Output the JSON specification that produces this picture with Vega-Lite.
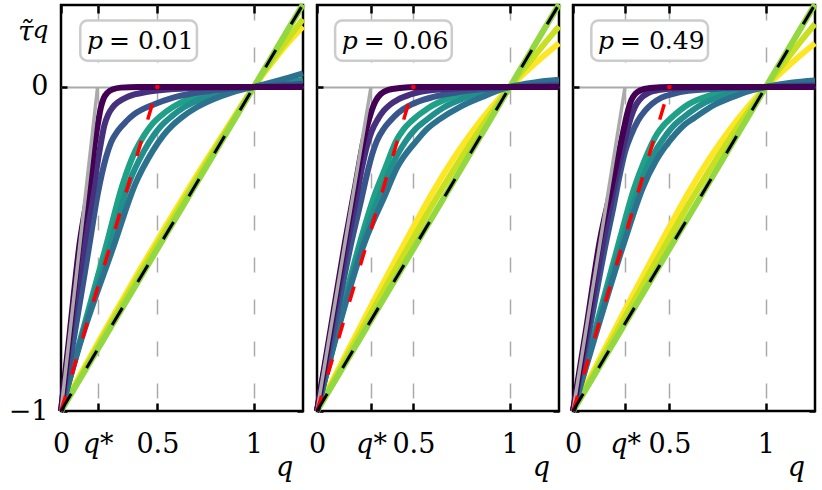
{
  "$schema": "https://vega.github.io/schema/vega-lite/v6.json",
  "background": "white",
  "padding": {"left": 6, "top": -9, "right": 5, "bottom": 4},
  "spacing": 14,
  "bounds": "flush",
  "datasets": {
    "panels": [
      {"p": 1, "lab": "= 0.01"},
      {"p": 2, "lab": "= 0.06"},
      {"p": 3, "lab": "= 0.49"}
    ],
    "guides": [
      {"p": 1, "k": "gray", "q": 0, "t": -1}, {"p": 1, "k": "gray", "q": 0.19, "t": 0},
      {"p": 1, "k": "red", "q": 0, "t": -1}, {"p": 1, "k": "red", "q": 0.5, "t": 0},
      {"p": 1, "k": "black", "q": 0, "t": -1}, {"p": 1, "k": "black", "q": 1.255, "t": 0.255},
      {"p": 2, "k": "gray", "q": 0, "t": -1}, {"p": 2, "k": "gray", "q": 0.28, "t": 0},
      {"p": 2, "k": "red", "q": 0, "t": -1}, {"p": 2, "k": "red", "q": 0.5, "t": 0},
      {"p": 2, "k": "black", "q": 0, "t": -1}, {"p": 2, "k": "black", "q": 1.255, "t": 0.255},
      {"p": 3, "k": "gray", "q": 0, "t": -1}, {"p": 3, "k": "gray", "q": 0.27, "t": 0},
      {"p": 3, "k": "red", "q": 0, "t": -1}, {"p": 3, "k": "red", "q": 0.5, "t": 0},
      {"p": 3, "k": "black", "q": 0, "t": -1}, {"p": 3, "k": "black", "q": 1.255, "t": 0.255}
    ],
    "curves": [
      {"p":1,"k":"c1","q":0,"t":-1},{"p":1,"k":"c1","q":0.1,"t":-0.888},{"p":1,"k":"c1","q":0.25,"t":-0.728},{"p":1,"k":"c1","q":0.4,"t":-0.573},{"p":1,"k":"c1","q":0.55,"t":-0.423},{"p":1,"k":"c1","q":0.7,"t":-0.277},{"p":1,"k":"c1","q":0.85,"t":-0.137},{"p":1,"k":"c1","q":1,"t":0},{"p":1,"k":"c1","q":1.1,"t":0.08},{"p":1,"k":"c1","q":1.18,"t":0.138},{"p":1,"k":"c1","q":1.255,"t":0.187},
      {"p":1,"k":"c2","q":0,"t":-1},{"p":1,"k":"c2","q":0.1,"t":-0.894},{"p":1,"k":"c2","q":0.25,"t":-0.738},{"p":1,"k":"c2","q":0.4,"t":-0.585},{"p":1,"k":"c2","q":0.55,"t":-0.435},{"p":1,"k":"c2","q":0.7,"t":-0.287},{"p":1,"k":"c2","q":0.85,"t":-0.142},{"p":1,"k":"c2","q":1,"t":0},{"p":1,"k":"c2","q":1.1,"t":0.086},{"p":1,"k":"c2","q":1.18,"t":0.15},{"p":1,"k":"c2","q":1.255,"t":0.21},
      {"p":1,"k":"c3","q":0,"t":-1},{"p":1,"k":"c3","q":0.5,"t":-0.5},{"p":1,"k":"c3","q":1,"t":0},{"p":1,"k":"c3","q":1.255,"t":0.255},
      {"p":1,"k":"c4","q":0,"t":-1},{"p":1,"k":"c4","q":0.1,"t":-0.78},{"p":1,"k":"c4","q":0.235,"t":-0.488},{"p":1,"k":"c4","q":0.32,"t":-0.3},{"p":1,"k":"c4","q":0.385,"t":-0.198},{"p":1,"k":"c4","q":0.43,"t":-0.15},{"p":1,"k":"c4","q":0.47,"t":-0.117},{"p":1,"k":"c4","q":0.52,"t":-0.088},{"p":1,"k":"c4","q":0.58,"t":-0.062},{"p":1,"k":"c4","q":0.67,"t":-0.035},{"p":1,"k":"c4","q":0.78,"t":-0.016},{"p":1,"k":"c4","q":0.9,"t":-0.005},{"p":1,"k":"c4","q":1,"t":0},{"p":1,"k":"c4","q":1.13,"t":0.003},{"p":1,"k":"c4","q":1.255,"t":0.006},
      {"p":1,"k":"c5","q":0,"t":-1},{"p":1,"k":"c5","q":0.1,"t":-0.785},{"p":1,"k":"c5","q":0.255,"t":-0.488},{"p":1,"k":"c5","q":0.35,"t":-0.3},{"p":1,"k":"c5","q":0.43,"t":-0.198},{"p":1,"k":"c5","q":0.48,"t":-0.15},{"p":1,"k":"c5","q":0.52,"t":-0.12},{"p":1,"k":"c5","q":0.575,"t":-0.09},{"p":1,"k":"c5","q":0.64,"t":-0.062},{"p":1,"k":"c5","q":0.73,"t":-0.036},{"p":1,"k":"c5","q":0.83,"t":-0.017},{"p":1,"k":"c5","q":0.92,"t":-0.006},{"p":1,"k":"c5","q":1,"t":0},{"p":1,"k":"c5","q":1.13,"t":0.01},{"p":1,"k":"c5","q":1.255,"t":0.022},
      {"p":1,"k":"c6","q":0,"t":-1},{"p":1,"k":"c6","q":0.1,"t":-0.79},{"p":1,"k":"c6","q":0.275,"t":-0.488},{"p":1,"k":"c6","q":0.385,"t":-0.3},{"p":1,"k":"c6","q":0.475,"t":-0.198},{"p":1,"k":"c6","q":0.53,"t":-0.15},{"p":1,"k":"c6","q":0.575,"t":-0.12},{"p":1,"k":"c6","q":0.63,"t":-0.092},{"p":1,"k":"c6","q":0.7,"t":-0.064},{"p":1,"k":"c6","q":0.79,"t":-0.038},{"p":1,"k":"c6","q":0.88,"t":-0.018},{"p":1,"k":"c6","q":0.94,"t":-0.008},{"p":1,"k":"c6","q":1,"t":0},{"p":1,"k":"c6","q":1.13,"t":0.02},{"p":1,"k":"c6","q":1.255,"t":0.042},
      {"p":1,"k":"c7","q":0,"t":-1},{"p":1,"k":"c7","q":0.06,"t":-0.8},{"p":1,"k":"c7","q":0.147,"t":-0.488},{"p":1,"k":"c7","q":0.19,"t":-0.332},{"p":1,"k":"c7","q":0.233,"t":-0.218},{"p":1,"k":"c7","q":0.26,"t":-0.17},{"p":1,"k":"c7","q":0.294,"t":-0.136},{"p":1,"k":"c7","q":0.34,"t":-0.105},{"p":1,"k":"c7","q":0.38,"t":-0.084},{"p":1,"k":"c7","q":0.484,"t":-0.053},{"p":1,"k":"c7","q":0.57,"t":-0.035},{"p":1,"k":"c7","q":0.7,"t":-0.018},{"p":1,"k":"c7","q":0.85,"t":-0.007},{"p":1,"k":"c7","q":1,"t":0},{"p":1,"k":"c7","q":1.255,"t":0.01},
      {"p":1,"k":"c8","q":0,"t":-1},{"p":1,"k":"c8","q":0.05,"t":-0.76},{"p":1,"k":"c8","q":0.121,"t":-0.488},{"p":1,"k":"c8","q":0.164,"t":-0.332},{"p":1,"k":"c8","q":0.199,"t":-0.2},{"p":1,"k":"c8","q":0.225,"t":-0.118},{"p":1,"k":"c8","q":0.245,"t":-0.085},{"p":1,"k":"c8","q":0.268,"t":-0.063},{"p":1,"k":"c8","q":0.3,"t":-0.045},{"p":1,"k":"c8","q":0.346,"t":-0.03},{"p":1,"k":"c8","q":0.45,"t":-0.015},{"p":1,"k":"c8","q":0.553,"t":-0.008},{"p":1,"k":"c8","q":0.7,"t":-0.003},{"p":1,"k":"c8","q":1,"t":0},{"p":1,"k":"c8","q":1.255,"t":0.002},
      {"p":1,"k":"c9","q":0,"t":-1},{"p":1,"k":"c9","q":0.045,"t":-0.76},{"p":1,"k":"c9","q":0.095,"t":-0.49},{"p":1,"k":"c9","q":0.147,"t":-0.3},{"p":1,"k":"c9","q":0.181,"t":-0.15},{"p":1,"k":"c9","q":0.195,"t":-0.1},{"p":1,"k":"c9","q":0.207,"t":-0.062},{"p":1,"k":"c9","q":0.222,"t":-0.034},{"p":1,"k":"c9","q":0.242,"t":-0.017},{"p":1,"k":"c9","q":0.27,"t":-0.007},{"p":1,"k":"c9","q":0.31,"t":-0.002},{"p":1,"k":"c9","q":0.4,"t":0},{"p":1,"k":"c9","q":1,"t":0},{"p":1,"k":"c9","q":1.255,"t":0},

      {"p":2,"k":"c1","q":0,"t":-1},{"p":2,"k":"c1","q":0.1,"t":-0.884},{"p":2,"k":"c1","q":0.2,"t":-0.768},{"p":2,"k":"c1","q":0.3,"t":-0.654},{"p":2,"k":"c1","q":0.4,"t":-0.542},{"p":2,"k":"c1","q":0.5,"t":-0.432},{"p":2,"k":"c1","q":0.6,"t":-0.325},{"p":2,"k":"c1","q":0.7,"t":-0.228},{"p":2,"k":"c1","q":0.8,"t":-0.142},{"p":2,"k":"c1","q":0.9,"t":-0.066},{"p":2,"k":"c1","q":1,"t":0},{"p":2,"k":"c1","q":1.1,"t":0.056},{"p":2,"k":"c1","q":1.18,"t":0.098},{"p":2,"k":"c1","q":1.255,"t":0.135},
      {"p":2,"k":"c2","q":0,"t":-1},{"p":2,"k":"c2","q":0.1,"t":-0.892},{"p":2,"k":"c2","q":0.2,"t":-0.784},{"p":2,"k":"c2","q":0.3,"t":-0.677},{"p":2,"k":"c2","q":0.4,"t":-0.571},{"p":2,"k":"c2","q":0.5,"t":-0.466},{"p":2,"k":"c2","q":0.6,"t":-0.362},{"p":2,"k":"c2","q":0.7,"t":-0.264},{"p":2,"k":"c2","q":0.8,"t":-0.171},{"p":2,"k":"c2","q":0.9,"t":-0.083},{"p":2,"k":"c2","q":1,"t":0},{"p":2,"k":"c2","q":1.1,"t":0.075},{"p":2,"k":"c2","q":1.18,"t":0.134},{"p":2,"k":"c2","q":1.255,"t":0.187},
      {"p":2,"k":"c3","q":0,"t":-1},{"p":2,"k":"c3","q":0.5,"t":-0.5},{"p":2,"k":"c3","q":1,"t":0},{"p":2,"k":"c3","q":1.255,"t":0.255},
      {"p":2,"k":"c4","q":0,"t":-1},{"p":2,"k":"c4","q":0.1,"t":-0.76},{"p":2,"k":"c4","q":0.225,"t":-0.475},{"p":2,"k":"c4","q":0.3,"t":-0.331},{"p":2,"k":"c4","q":0.355,"t":-0.249},{"p":2,"k":"c4","q":0.41,"t":-0.167},{"p":2,"k":"c4","q":0.45,"t":-0.13},{"p":2,"k":"c4","q":0.49,"t":-0.105},{"p":2,"k":"c4","q":0.58,"t":-0.064},{"p":2,"k":"c4","q":0.69,"t":-0.033},{"p":2,"k":"c4","q":0.82,"t":-0.012},{"p":2,"k":"c4","q":0.92,"t":-0.004},{"p":2,"k":"c4","q":1,"t":0},{"p":2,"k":"c4","q":1.13,"t":0.003},{"p":2,"k":"c4","q":1.255,"t":0.006},
      {"p":2,"k":"c5","q":0,"t":-1},{"p":2,"k":"c5","q":0.1,"t":-0.765},{"p":2,"k":"c5","q":0.237,"t":-0.475},{"p":2,"k":"c5","q":0.327,"t":-0.331},{"p":2,"k":"c5","q":0.383,"t":-0.249},{"p":2,"k":"c5","q":0.46,"t":-0.167},{"p":2,"k":"c5","q":0.51,"t":-0.13},{"p":2,"k":"c5","q":0.56,"t":-0.105},{"p":2,"k":"c5","q":0.655,"t":-0.064},{"p":2,"k":"c5","q":0.77,"t":-0.033},{"p":2,"k":"c5","q":0.88,"t":-0.013},{"p":2,"k":"c5","q":0.95,"t":-0.005},{"p":2,"k":"c5","q":1,"t":0},{"p":2,"k":"c5","q":1.13,"t":0.008},{"p":2,"k":"c5","q":1.255,"t":0.014},
      {"p":2,"k":"c6","q":0,"t":-1},{"p":2,"k":"c6","q":0.1,"t":-0.77},{"p":2,"k":"c6","q":0.25,"t":-0.475},{"p":2,"k":"c6","q":0.355,"t":-0.331},{"p":2,"k":"c6","q":0.415,"t":-0.249},{"p":2,"k":"c6","q":0.515,"t":-0.167},{"p":2,"k":"c6","q":0.57,"t":-0.13},{"p":2,"k":"c6","q":0.635,"t":-0.1},{"p":2,"k":"c6","q":0.74,"t":-0.062},{"p":2,"k":"c6","q":0.86,"t":-0.03},{"p":2,"k":"c6","q":0.93,"t":-0.013},{"p":2,"k":"c6","q":1,"t":0},{"p":2,"k":"c6","q":1.13,"t":0.014},{"p":2,"k":"c6","q":1.255,"t":0.022},
      {"p":2,"k":"c7","q":0,"t":-1},{"p":2,"k":"c7","q":0.09,"t":-0.74},{"p":2,"k":"c7","q":0.18,"t":-0.475},{"p":2,"k":"c7","q":0.225,"t":-0.36},{"p":2,"k":"c7","q":0.259,"t":-0.27},{"p":2,"k":"c7","q":0.285,"t":-0.21},{"p":2,"k":"c7","q":0.31,"t":-0.167},{"p":2,"k":"c7","q":0.345,"t":-0.13},{"p":2,"k":"c7","q":0.379,"t":-0.105},{"p":2,"k":"c7","q":0.42,"t":-0.08},{"p":2,"k":"c7","q":0.474,"t":-0.059},{"p":2,"k":"c7","q":0.55,"t":-0.04},{"p":2,"k":"c7","q":0.629,"t":-0.027},{"p":2,"k":"c7","q":0.73,"t":-0.016},{"p":2,"k":"c7","q":0.836,"t":-0.008},{"p":2,"k":"c7","q":1,"t":0},{"p":2,"k":"c7","q":1.255,"t":0.008},
      {"p":2,"k":"c8","q":0,"t":-1},{"p":2,"k":"c8","q":0.08,"t":-0.73},{"p":2,"k":"c8","q":0.16,"t":-0.475},{"p":2,"k":"c8","q":0.2,"t":-0.355},{"p":2,"k":"c8","q":0.233,"t":-0.25},{"p":2,"k":"c8","q":0.26,"t":-0.18},{"p":2,"k":"c8","q":0.284,"t":-0.136},{"p":2,"k":"c8","q":0.315,"t":-0.1},{"p":2,"k":"c8","q":0.345,"t":-0.074},{"p":2,"k":"c8","q":0.38,"t":-0.054},{"p":2,"k":"c8","q":0.422,"t":-0.038},{"p":2,"k":"c8","q":0.48,"t":-0.024},{"p":2,"k":"c8","q":0.543,"t":-0.014},{"p":2,"k":"c8","q":0.65,"t":-0.007},{"p":2,"k":"c8","q":0.75,"t":-0.004},{"p":2,"k":"c8","q":1,"t":0},{"p":2,"k":"c8","q":1.255,"t":0.002},
      {"p":2,"k":"c9","q":0,"t":-1},{"p":2,"k":"c9","q":0.07,"t":-0.75},{"p":2,"k":"c9","q":0.145,"t":-0.48},{"p":2,"k":"c9","q":0.2,"t":-0.3},{"p":2,"k":"c9","q":0.245,"t":-0.155},{"p":2,"k":"c9","q":0.265,"t":-0.11},{"p":2,"k":"c9","q":0.285,"t":-0.07},{"p":2,"k":"c9","q":0.305,"t":-0.042},{"p":2,"k":"c9","q":0.33,"t":-0.022},{"p":2,"k":"c9","q":0.37,"t":-0.009},{"p":2,"k":"c9","q":0.43,"t":-0.003},{"p":2,"k":"c9","q":0.52,"t":0},{"p":2,"k":"c9","q":1,"t":0},{"p":2,"k":"c9","q":1.255,"t":0},

      {"p":3,"k":"c1","q":0,"t":-1},{"p":3,"k":"c1","q":0.1,"t":-0.884},{"p":3,"k":"c1","q":0.2,"t":-0.768},{"p":3,"k":"c1","q":0.3,"t":-0.654},{"p":3,"k":"c1","q":0.4,"t":-0.542},{"p":3,"k":"c1","q":0.5,"t":-0.432},{"p":3,"k":"c1","q":0.6,"t":-0.325},{"p":3,"k":"c1","q":0.7,"t":-0.228},{"p":3,"k":"c1","q":0.8,"t":-0.142},{"p":3,"k":"c1","q":0.9,"t":-0.066},{"p":3,"k":"c1","q":1,"t":0},{"p":3,"k":"c1","q":1.1,"t":0.056},{"p":3,"k":"c1","q":1.18,"t":0.098},{"p":3,"k":"c1","q":1.255,"t":0.135},
      {"p":3,"k":"c2","q":0,"t":-1},{"p":3,"k":"c2","q":0.1,"t":-0.892},{"p":3,"k":"c2","q":0.2,"t":-0.784},{"p":3,"k":"c2","q":0.3,"t":-0.677},{"p":3,"k":"c2","q":0.4,"t":-0.571},{"p":3,"k":"c2","q":0.5,"t":-0.466},{"p":3,"k":"c2","q":0.6,"t":-0.362},{"p":3,"k":"c2","q":0.7,"t":-0.264},{"p":3,"k":"c2","q":0.8,"t":-0.171},{"p":3,"k":"c2","q":0.9,"t":-0.083},{"p":3,"k":"c2","q":1,"t":0},{"p":3,"k":"c2","q":1.1,"t":0.078},{"p":3,"k":"c2","q":1.18,"t":0.14},{"p":3,"k":"c2","q":1.255,"t":0.195},
      {"p":3,"k":"c3","q":0,"t":-1},{"p":3,"k":"c3","q":0.5,"t":-0.5},{"p":3,"k":"c3","q":1,"t":0},{"p":3,"k":"c3","q":1.255,"t":0.255},
      {"p":3,"k":"c4","q":0,"t":-1},{"p":3,"k":"c4","q":0.11,"t":-0.76},{"p":3,"k":"c4","q":0.24,"t":-0.475},{"p":3,"k":"c4","q":0.318,"t":-0.311},{"p":3,"k":"c4","q":0.37,"t":-0.228},{"p":3,"k":"c4","q":0.435,"t":-0.146},{"p":3,"k":"c4","q":0.47,"t":-0.118},{"p":3,"k":"c4","q":0.51,"t":-0.095},{"p":3,"k":"c4","q":0.6,"t":-0.053},{"p":3,"k":"c4","q":0.71,"t":-0.026},{"p":3,"k":"c4","q":0.83,"t":-0.01},{"p":3,"k":"c4","q":0.92,"t":-0.003},{"p":3,"k":"c4","q":1,"t":0},{"p":3,"k":"c4","q":1.13,"t":0.003},{"p":3,"k":"c4","q":1.255,"t":0.006},
      {"p":3,"k":"c5","q":0,"t":-1},{"p":3,"k":"c5","q":0.115,"t":-0.76},{"p":3,"k":"c5","q":0.255,"t":-0.475},{"p":3,"k":"c5","q":0.342,"t":-0.311},{"p":3,"k":"c5","q":0.4,"t":-0.228},{"p":3,"k":"c5","q":0.485,"t":-0.146},{"p":3,"k":"c5","q":0.525,"t":-0.118},{"p":3,"k":"c5","q":0.57,"t":-0.095},{"p":3,"k":"c5","q":0.67,"t":-0.053},{"p":3,"k":"c5","q":0.78,"t":-0.026},{"p":3,"k":"c5","q":0.88,"t":-0.01},{"p":3,"k":"c5","q":0.95,"t":-0.004},{"p":3,"k":"c5","q":1,"t":0},{"p":3,"k":"c5","q":1.13,"t":0.009},{"p":3,"k":"c5","q":1.255,"t":0.015},
      {"p":3,"k":"c6","q":0,"t":-1},{"p":3,"k":"c6","q":0.12,"t":-0.76},{"p":3,"k":"c6","q":0.268,"t":-0.475},{"p":3,"k":"c6","q":0.362,"t":-0.311},{"p":3,"k":"c6","q":0.43,"t":-0.228},{"p":3,"k":"c6","q":0.53,"t":-0.146},{"p":3,"k":"c6","q":0.575,"t":-0.118},{"p":3,"k":"c6","q":0.63,"t":-0.095},{"p":3,"k":"c6","q":0.74,"t":-0.053},{"p":3,"k":"c6","q":0.85,"t":-0.026},{"p":3,"k":"c6","q":0.93,"t":-0.01},{"p":3,"k":"c6","q":1,"t":0},{"p":3,"k":"c6","q":1.13,"t":0.013},{"p":3,"k":"c6","q":1.255,"t":0.02},
      {"p":3,"k":"c7","q":0,"t":-1},{"p":3,"k":"c7","q":0.085,"t":-0.75},{"p":3,"k":"c7","q":0.173,"t":-0.475},{"p":3,"k":"c7","q":0.21,"t":-0.37},{"p":3,"k":"c7","q":0.243,"t":-0.27},{"p":3,"k":"c7","q":0.27,"t":-0.2},{"p":3,"k":"c7","q":0.303,"t":-0.146},{"p":3,"k":"c7","q":0.335,"t":-0.106},{"p":3,"k":"c7","q":0.373,"t":-0.074},{"p":3,"k":"c7","q":0.41,"t":-0.052},{"p":3,"k":"c7","q":0.459,"t":-0.033},{"p":3,"k":"c7","q":0.52,"t":-0.021},{"p":3,"k":"c7","q":0.598,"t":-0.012},{"p":3,"k":"c7","q":0.789,"t":-0.004},{"p":3,"k":"c7","q":1,"t":0},{"p":3,"k":"c7","q":1.255,"t":0.006},
      {"p":3,"k":"c8","q":0,"t":-1},{"p":3,"k":"c8","q":0.075,"t":-0.75},{"p":3,"k":"c8","q":0.15,"t":-0.5},{"p":3,"k":"c8","q":0.21,"t":-0.32},{"p":3,"k":"c8","q":0.255,"t":-0.2},{"p":3,"k":"c8","q":0.275,"t":-0.15},{"p":3,"k":"c8","q":0.29,"t":-0.115},{"p":3,"k":"c8","q":0.31,"t":-0.078},{"p":3,"k":"c8","q":0.33,"t":-0.052},{"p":3,"k":"c8","q":0.36,"t":-0.03},{"p":3,"k":"c8","q":0.39,"t":-0.019},{"p":3,"k":"c8","q":0.45,"t":-0.009},{"p":3,"k":"c8","q":0.55,"t":-0.004},{"p":3,"k":"c8","q":0.7,"t":-0.001},{"p":3,"k":"c8","q":1,"t":0},{"p":3,"k":"c8","q":1.255,"t":0.002},
      {"p":3,"k":"c9","q":0,"t":-1},{"p":3,"k":"c9","q":0.07,"t":-0.74},{"p":3,"k":"c9","q":0.139,"t":-0.475},{"p":3,"k":"c9","q":0.199,"t":-0.311},{"p":3,"k":"c9","q":0.243,"t":-0.187},{"p":3,"k":"c9","q":0.265,"t":-0.125},{"p":3,"k":"c9","q":0.28,"t":-0.085},{"p":3,"k":"c9","q":0.303,"t":-0.04},{"p":3,"k":"c9","q":0.325,"t":-0.02},{"p":3,"k":"c9","q":0.347,"t":-0.011},{"p":3,"k":"c9","q":0.4,"t":-0.003},{"p":3,"k":"c9","q":0.5,"t":0},{"p":3,"k":"c9","q":1,"t":0},{"p":3,"k":"c9","q":1.255,"t":0}
    ]
  },
  "hconcat": [
    {
      "width": 242,
      "height": 406,
      "layer": [
        {
          "data": {"name": "curves"},
          "transform": [{"filter": "datum.p == 1"}],
          "mark": {"type": "line", "strokeWidth": 6, "interpolate": "monotone"},
          "encoding": {
            "x": {
              "field": "q", "type": "quantitative",
              "scale": {"domain": [0, 1.255], "nice": false, "zero": false},
              "axis": {
                "orient": "bottom", "values": [0, 0.19, 0.5, 1], "title": null,
                "labelExpr": "datum.value == 0 ? '0' : datum.value == 0.5 ? '0.5' : datum.value == 1 ? '1' : 'q*'",
                "labelFontStyle": {"condition": {"test": "datum.value > 0.05 && datum.value < 0.45", "value": "italic"}, "value": "normal"},
                "labelFont": "DejaVu Serif", "labelFontSize": 27, "labelColor": "black",
                "labelBaseline": "alphabetic", "labelPadding": 49, "labelOverlap": false, "labelFlush": false,
                "domain": false, "tickSize": -8, "tickWidth": 2.5, "tickColor": "black",
                "grid": true, "gridColor": "#aaaaaa", "gridDash": [15, 27], "gridWidth": 1.5,
                "gridOpacity": {"condition": {"test": "datum.value == 0", "value": 0}, "value": 1}
              }
            },
            "y": {
              "field": "t", "type": "quantitative",
              "scale": {"domain": [-1, 0.253], "nice": false, "zero": false},
              "axis": {
                "orient": "left", "values": [-1, 0], "title": null,
                "labelExpr": "datum.value == 0 ? '0' : '−1'",
                "labelFont": "DejaVu Serif", "labelFontSize": 27, "labelColor": "black",
                "labelBaseline": "middle", "labelPadding": 19, "labelFlush": false,
                "domain": false, "tickSize": -6, "tickWidth": 2.5, "tickColor": "black",
                "grid": true, "gridColor": "#aaaaaa", "gridWidth": 2,
                "gridOpacity": {"condition": {"test": "datum.value < -0.5", "value": 0}, "value": 1}
              }
            },
            "color": {
              "field": "k", "type": "nominal",
              "scale": {"domain": ["c1", "c2", "c3", "c4", "c5", "c6", "c7", "c8", "c9"], "range": ["#fde725", "#c8e020", "#93d741", "#1fa187", "#21908d", "#2c728e", "#39568c", "#46307e", "#440154"]},
              "legend": null
            },
            "order": {"field": "q", "type": "quantitative"}
          }
        },
        {
          "data": {"name": "guides"},
          "transform": [{"filter": "datum.p == 1 && datum.k == 'gray'"}],
          "mark": {"type": "line", "color": "#aaaaaa", "strokeWidth": 3.5},
          "encoding": {
            "x": {"field": "q", "type": "quantitative", "scale": {"domain": [0, 1.255], "nice": false, "zero": false}, "axis": null},
            "y": {"field": "t", "type": "quantitative", "scale": {"domain": [-1, 0.253], "nice": false, "zero": false}, "axis": null}
          }
        },
        {
          "data": {"name": "guides"},
          "transform": [{"filter": "datum.p == 1 && datum.k == 'red'"}],
          "mark": {"type": "line", "color": "#ff0000", "strokeWidth": 3.5, "strokeDash": [16, 22]},
          "encoding": {
            "x": {"field": "q", "type": "quantitative", "scale": {"domain": [0, 1.255], "nice": false, "zero": false}, "axis": null},
            "y": {"field": "t", "type": "quantitative", "scale": {"domain": [-1, 0.253], "nice": false, "zero": false}, "axis": null}
          }
        },
        {
          "data": {"name": "guides"},
          "transform": [{"filter": "datum.p == 1 && datum.k == 'red' && datum.t == 0"}],
          "mark": {"type": "point", "filled": true, "color": "#ff0000", "size": 22, "opacity": 1},
          "encoding": {
            "x": {"field": "q", "type": "quantitative", "scale": {"domain": [0, 1.255], "nice": false, "zero": false}, "axis": null},
            "y": {"field": "t", "type": "quantitative", "scale": {"domain": [-1, 0.253], "nice": false, "zero": false}, "axis": null}
          }
        },
        {
          "data": {"name": "guides"},
          "transform": [{"filter": "datum.p == 1 && datum.k == 'black'"}],
          "mark": {"type": "line", "color": "black", "strokeWidth": 3, "strokeDash": [20, 30]},
          "encoding": {
            "x": {
              "field": "q", "type": "quantitative",
              "scale": {"domain": [0, 1.255], "nice": false, "zero": false},
              "axis": {"orient": "top", "values": [0, 0.19, 0.5, 1], "title": null, "labels": false, "domain": false, "grid": false, "tickSize": -8, "tickWidth": 2.5, "tickColor": "black", "minExtent": 0, "maxExtent": 0}
            },
            "y": {
              "field": "t", "type": "quantitative",
              "scale": {"domain": [-1, 0.253], "nice": false, "zero": false},
              "axis": {"orient": "right", "values": [-1, 0], "title": null, "labels": false, "domain": false, "grid": false, "tickSize": -6, "tickWidth": 2.5, "tickColor": "black", "minExtent": 0, "maxExtent": 0}
            }
          }
        },
        {
          "data": {"name": "panels"},
          "transform": [{"filter": "datum.p == 1"}],
          "mark": {"type": "rect", "fill": "white", "stroke": "#cccccc", "strokeWidth": 2.5, "cornerRadius": 7},
          "encoding": {
            "x": {"datum": 0.1, "type": "quantitative", "axis": null},
            "x2": {"datum": 0.705},
            "y": {"datum": 0.205, "type": "quantitative", "axis": null},
            "y2": {"datum": 0.081}
          }
        },
        {
          "data": {"name": "panels"},
          "transform": [{"filter": "datum.p == 1"}],
          "mark": {"type": "text", "text": "p", "font": "DejaVu Serif", "fontStyle": "italic", "fontSize": 25, "align": "left", "baseline": "alphabetic", "color": "black"},
          "encoding": {"x": {"datum": 0.135, "type": "quantitative", "axis": null}, "y": {"datum": 0.118, "type": "quantitative", "axis": null}}
        },
        {
          "data": {"name": "panels"},
          "transform": [{"filter": "datum.p == 1"}],
          "mark": {"type": "text", "font": "DejaVu Serif", "fontSize": 25, "align": "left", "baseline": "alphabetic", "color": "black"},
          "encoding": {"x": {"datum": 0.249, "type": "quantitative", "axis": null}, "y": {"datum": 0.118, "type": "quantitative", "axis": null}, "text": {"field": "lab", "type": "nominal"}}
        },
        {
          "data": {"name": "panels"},
          "transform": [{"filter": "datum.p == 1"}],
          "mark": {"type": "text", "text": "τ̃", "font": "DejaVu Serif", "fontStyle": "italic", "fontSize": 28, "align": "left", "baseline": "alphabetic", "color": "black"},
          "encoding": {"x": {"datum": -0.223, "type": "quantitative", "axis": null}, "y": {"datum": 0.143, "type": "quantitative", "axis": null}}
        },
        {
          "data": {"name": "panels"},
          "transform": [{"filter": "datum.p == 1"}],
          "mark": {"type": "text", "text": "q", "font": "DejaVu Serif", "fontStyle": "italic", "fontSize": 25, "align": "left", "baseline": "alphabetic", "color": "black"},
          "encoding": {"x": {"datum": -0.148, "type": "quantitative", "axis": null}, "y": {"datum": 0.15, "type": "quantitative", "axis": null}}
        },
        {
          "data": {"name": "panels"},
          "transform": [{"filter": "datum.p == 1"}],
          "mark": {"type": "text", "text": "q", "font": "DejaVu Serif", "fontStyle": "italic", "fontSize": 27, "align": "center", "baseline": "alphabetic", "color": "black"},
          "encoding": {"x": {"datum": 1.16, "type": "quantitative", "axis": null}, "y": {"datum": -1.2, "type": "quantitative", "axis": null}}
        }
      ]
    },
    {
      "width": 242,
      "height": 406,
      "layer": [
        {
          "data": {"name": "curves"},
          "transform": [{"filter": "datum.p == 2"}],
          "mark": {"type": "line", "strokeWidth": 6, "interpolate": "monotone"},
          "encoding": {
            "x": {
              "field": "q", "type": "quantitative",
              "scale": {"domain": [0, 1.255], "nice": false, "zero": false},
              "axis": {
                "orient": "bottom", "values": [0, 0.28, 0.5, 1], "title": null,
                "labelExpr": "datum.value == 0 ? '0' : datum.value == 0.5 ? '0.5' : datum.value == 1 ? '1' : 'q*'",
                "labelFontStyle": {"condition": {"test": "datum.value > 0.05 && datum.value < 0.45", "value": "italic"}, "value": "normal"},
                "labelFont": "DejaVu Serif", "labelFontSize": 27, "labelColor": "black",
                "labelBaseline": "alphabetic", "labelPadding": 49, "labelOverlap": false, "labelFlush": false,
                "domain": false, "tickSize": -8, "tickWidth": 2.5, "tickColor": "black",
                "grid": true, "gridColor": "#aaaaaa", "gridDash": [15, 27], "gridWidth": 1.5,
                "gridOpacity": {"condition": {"test": "datum.value == 0", "value": 0}, "value": 1}
              }
            },
            "y": {
              "field": "t", "type": "quantitative",
              "scale": {"domain": [-1, 0.253], "nice": false, "zero": false},
              "axis": {
                "orient": "left", "values": [-1, 0], "title": null, "labels": false,
                "domain": false, "tickSize": -6, "tickWidth": 2.5, "tickColor": "black",
                "grid": true, "gridColor": "#aaaaaa", "gridWidth": 2,
                "gridOpacity": {"condition": {"test": "datum.value < -0.5", "value": 0}, "value": 1},
                "minExtent": 0, "maxExtent": 0
              }
            },
            "color": {
              "field": "k", "type": "nominal",
              "scale": {"domain": ["c1", "c2", "c3", "c4", "c5", "c6", "c7", "c8", "c9"], "range": ["#fde725", "#c8e020", "#93d741", "#1fa187", "#21908d", "#2c728e", "#39568c", "#46307e", "#440154"]},
              "legend": null
            },
            "order": {"field": "q", "type": "quantitative"}
          }
        },
        {
          "data": {"name": "guides"},
          "transform": [{"filter": "datum.p == 2 && datum.k == 'gray'"}],
          "mark": {"type": "line", "color": "#aaaaaa", "strokeWidth": 3.5},
          "encoding": {
            "x": {"field": "q", "type": "quantitative", "scale": {"domain": [0, 1.255], "nice": false, "zero": false}, "axis": null},
            "y": {"field": "t", "type": "quantitative", "scale": {"domain": [-1, 0.253], "nice": false, "zero": false}, "axis": null}
          }
        },
        {
          "data": {"name": "guides"},
          "transform": [{"filter": "datum.p == 2 && datum.k == 'red'"}],
          "mark": {"type": "line", "color": "#ff0000", "strokeWidth": 3.5, "strokeDash": [16, 22]},
          "encoding": {
            "x": {"field": "q", "type": "quantitative", "scale": {"domain": [0, 1.255], "nice": false, "zero": false}, "axis": null},
            "y": {"field": "t", "type": "quantitative", "scale": {"domain": [-1, 0.253], "nice": false, "zero": false}, "axis": null}
          }
        },
        {
          "data": {"name": "guides"},
          "transform": [{"filter": "datum.p == 2 && datum.k == 'red' && datum.t == 0"}],
          "mark": {"type": "point", "filled": true, "color": "#ff0000", "size": 22, "opacity": 1},
          "encoding": {
            "x": {"field": "q", "type": "quantitative", "scale": {"domain": [0, 1.255], "nice": false, "zero": false}, "axis": null},
            "y": {"field": "t", "type": "quantitative", "scale": {"domain": [-1, 0.253], "nice": false, "zero": false}, "axis": null}
          }
        },
        {
          "data": {"name": "guides"},
          "transform": [{"filter": "datum.p == 2 && datum.k == 'black'"}],
          "mark": {"type": "line", "color": "black", "strokeWidth": 3, "strokeDash": [20, 30]},
          "encoding": {
            "x": {
              "field": "q", "type": "quantitative",
              "scale": {"domain": [0, 1.255], "nice": false, "zero": false},
              "axis": {"orient": "top", "values": [0, 0.28, 0.5, 1], "title": null, "labels": false, "domain": false, "grid": false, "tickSize": -8, "tickWidth": 2.5, "tickColor": "black", "minExtent": 0, "maxExtent": 0}
            },
            "y": {
              "field": "t", "type": "quantitative",
              "scale": {"domain": [-1, 0.253], "nice": false, "zero": false},
              "axis": {"orient": "right", "values": [-1, 0], "title": null, "labels": false, "domain": false, "grid": false, "tickSize": -6, "tickWidth": 2.5, "tickColor": "black", "minExtent": 0, "maxExtent": 0}
            }
          }
        },
        {
          "data": {"name": "panels"},
          "transform": [{"filter": "datum.p == 2"}],
          "mark": {"type": "rect", "fill": "white", "stroke": "#cccccc", "strokeWidth": 2.5, "cornerRadius": 7},
          "encoding": {
            "x": {"datum": 0.094, "type": "quantitative", "axis": null},
            "x2": {"datum": 0.699},
            "y": {"datum": 0.205, "type": "quantitative", "axis": null},
            "y2": {"datum": 0.081}
          }
        },
        {
          "data": {"name": "panels"},
          "transform": [{"filter": "datum.p == 2"}],
          "mark": {"type": "text", "text": "p", "font": "DejaVu Serif", "fontStyle": "italic", "fontSize": 25, "align": "left", "baseline": "alphabetic", "color": "black"},
          "encoding": {"x": {"datum": 0.129, "type": "quantitative", "axis": null}, "y": {"datum": 0.118, "type": "quantitative", "axis": null}}
        },
        {
          "data": {"name": "panels"},
          "transform": [{"filter": "datum.p == 2"}],
          "mark": {"type": "text", "font": "DejaVu Serif", "fontSize": 25, "align": "left", "baseline": "alphabetic", "color": "black"},
          "encoding": {"x": {"datum": 0.243, "type": "quantitative", "axis": null}, "y": {"datum": 0.118, "type": "quantitative", "axis": null}, "text": {"field": "lab", "type": "nominal"}}
        },
        {
          "data": {"name": "panels"},
          "transform": [{"filter": "datum.p == 2"}],
          "mark": {"type": "text", "text": "q", "font": "DejaVu Serif", "fontStyle": "italic", "fontSize": 27, "align": "center", "baseline": "alphabetic", "color": "black"},
          "encoding": {"x": {"datum": 1.164, "type": "quantitative", "axis": null}, "y": {"datum": -1.2, "type": "quantitative", "axis": null}}
        }
      ]
    },
    {
      "width": 242,
      "height": 406,
      "layer": [
        {
          "data": {"name": "curves"},
          "transform": [{"filter": "datum.p == 3"}],
          "mark": {"type": "line", "strokeWidth": 6, "interpolate": "monotone"},
          "encoding": {
            "x": {
              "field": "q", "type": "quantitative",
              "scale": {"domain": [0, 1.255], "nice": false, "zero": false},
              "axis": {
                "orient": "bottom", "values": [0, 0.27, 0.5, 1], "title": null,
                "labelExpr": "datum.value == 0 ? '0' : datum.value == 0.5 ? '0.5' : datum.value == 1 ? '1' : 'q*'",
                "labelFontStyle": {"condition": {"test": "datum.value > 0.05 && datum.value < 0.45", "value": "italic"}, "value": "normal"},
                "labelFont": "DejaVu Serif", "labelFontSize": 27, "labelColor": "black",
                "labelBaseline": "alphabetic", "labelPadding": 49, "labelOverlap": false, "labelFlush": false,
                "domain": false, "tickSize": -8, "tickWidth": 2.5, "tickColor": "black",
                "grid": true, "gridColor": "#aaaaaa", "gridDash": [15, 27], "gridWidth": 1.5,
                "gridOpacity": {"condition": {"test": "datum.value == 0", "value": 0}, "value": 1}
              }
            },
            "y": {
              "field": "t", "type": "quantitative",
              "scale": {"domain": [-1, 0.253], "nice": false, "zero": false},
              "axis": {
                "orient": "left", "values": [-1, 0], "title": null, "labels": false,
                "domain": false, "tickSize": -6, "tickWidth": 2.5, "tickColor": "black",
                "grid": true, "gridColor": "#aaaaaa", "gridWidth": 2,
                "gridOpacity": {"condition": {"test": "datum.value < -0.5", "value": 0}, "value": 1},
                "minExtent": 0, "maxExtent": 0
              }
            },
            "color": {
              "field": "k", "type": "nominal",
              "scale": {"domain": ["c1", "c2", "c3", "c4", "c5", "c6", "c7", "c8", "c9"], "range": ["#fde725", "#c8e020", "#93d741", "#1fa187", "#21908d", "#2c728e", "#39568c", "#46307e", "#440154"]},
              "legend": null
            },
            "order": {"field": "q", "type": "quantitative"}
          }
        },
        {
          "data": {"name": "guides"},
          "transform": [{"filter": "datum.p == 3 && datum.k == 'gray'"}],
          "mark": {"type": "line", "color": "#aaaaaa", "strokeWidth": 3.5},
          "encoding": {
            "x": {"field": "q", "type": "quantitative", "scale": {"domain": [0, 1.255], "nice": false, "zero": false}, "axis": null},
            "y": {"field": "t", "type": "quantitative", "scale": {"domain": [-1, 0.253], "nice": false, "zero": false}, "axis": null}
          }
        },
        {
          "data": {"name": "guides"},
          "transform": [{"filter": "datum.p == 3 && datum.k == 'red'"}],
          "mark": {"type": "line", "color": "#ff0000", "strokeWidth": 3.5, "strokeDash": [16, 22]},
          "encoding": {
            "x": {"field": "q", "type": "quantitative", "scale": {"domain": [0, 1.255], "nice": false, "zero": false}, "axis": null},
            "y": {"field": "t", "type": "quantitative", "scale": {"domain": [-1, 0.253], "nice": false, "zero": false}, "axis": null}
          }
        },
        {
          "data": {"name": "guides"},
          "transform": [{"filter": "datum.p == 3 && datum.k == 'red' && datum.t == 0"}],
          "mark": {"type": "point", "filled": true, "color": "#ff0000", "size": 22, "opacity": 1},
          "encoding": {
            "x": {"field": "q", "type": "quantitative", "scale": {"domain": [0, 1.255], "nice": false, "zero": false}, "axis": null},
            "y": {"field": "t", "type": "quantitative", "scale": {"domain": [-1, 0.253], "nice": false, "zero": false}, "axis": null}
          }
        },
        {
          "data": {"name": "guides"},
          "transform": [{"filter": "datum.p == 3 && datum.k == 'black'"}],
          "mark": {"type": "line", "color": "black", "strokeWidth": 3, "strokeDash": [20, 30]},
          "encoding": {
            "x": {
              "field": "q", "type": "quantitative",
              "scale": {"domain": [0, 1.255], "nice": false, "zero": false},
              "axis": {"orient": "top", "values": [0, 0.27, 0.5, 1], "title": null, "labels": false, "domain": false, "grid": false, "tickSize": -8, "tickWidth": 2.5, "tickColor": "black", "minExtent": 0, "maxExtent": 0}
            },
            "y": {
              "field": "t", "type": "quantitative",
              "scale": {"domain": [-1, 0.253], "nice": false, "zero": false},
              "axis": {"orient": "right", "values": [-1, 0], "title": null, "labels": false, "domain": false, "grid": false, "tickSize": -6, "tickWidth": 2.5, "tickColor": "black", "minExtent": 0, "maxExtent": 0}
            }
          }
        },
        {
          "data": {"name": "panels"},
          "transform": [{"filter": "datum.p == 3"}],
          "mark": {"type": "rect", "fill": "white", "stroke": "#cccccc", "strokeWidth": 2.5, "cornerRadius": 7},
          "encoding": {
            "x": {"datum": 0.095, "type": "quantitative", "axis": null},
            "x2": {"datum": 0.7},
            "y": {"datum": 0.205, "type": "quantitative", "axis": null},
            "y2": {"datum": 0.081}
          }
        },
        {
          "data": {"name": "panels"},
          "transform": [{"filter": "datum.p == 3"}],
          "mark": {"type": "text", "text": "p", "font": "DejaVu Serif", "fontStyle": "italic", "fontSize": 25, "align": "left", "baseline": "alphabetic", "color": "black"},
          "encoding": {"x": {"datum": 0.13, "type": "quantitative", "axis": null}, "y": {"datum": 0.118, "type": "quantitative", "axis": null}}
        },
        {
          "data": {"name": "panels"},
          "transform": [{"filter": "datum.p == 3"}],
          "mark": {"type": "text", "font": "DejaVu Serif", "fontSize": 25, "align": "left", "baseline": "alphabetic", "color": "black"},
          "encoding": {"x": {"datum": 0.244, "type": "quantitative", "axis": null}, "y": {"datum": 0.118, "type": "quantitative", "axis": null}, "text": {"field": "lab", "type": "nominal"}}
        },
        {
          "data": {"name": "panels"},
          "transform": [{"filter": "datum.p == 3"}],
          "mark": {"type": "text", "text": "q", "font": "DejaVu Serif", "fontStyle": "italic", "fontSize": 27, "align": "center", "baseline": "alphabetic", "color": "black"},
          "encoding": {"x": {"datum": 1.159, "type": "quantitative", "axis": null}, "y": {"datum": -1.2, "type": "quantitative", "axis": null}}
        }
      ]
    }
  ],
  "config": {
    "view": {"stroke": "black", "strokeWidth": 2.5},
    "font": "DejaVu Serif"
  }
}
